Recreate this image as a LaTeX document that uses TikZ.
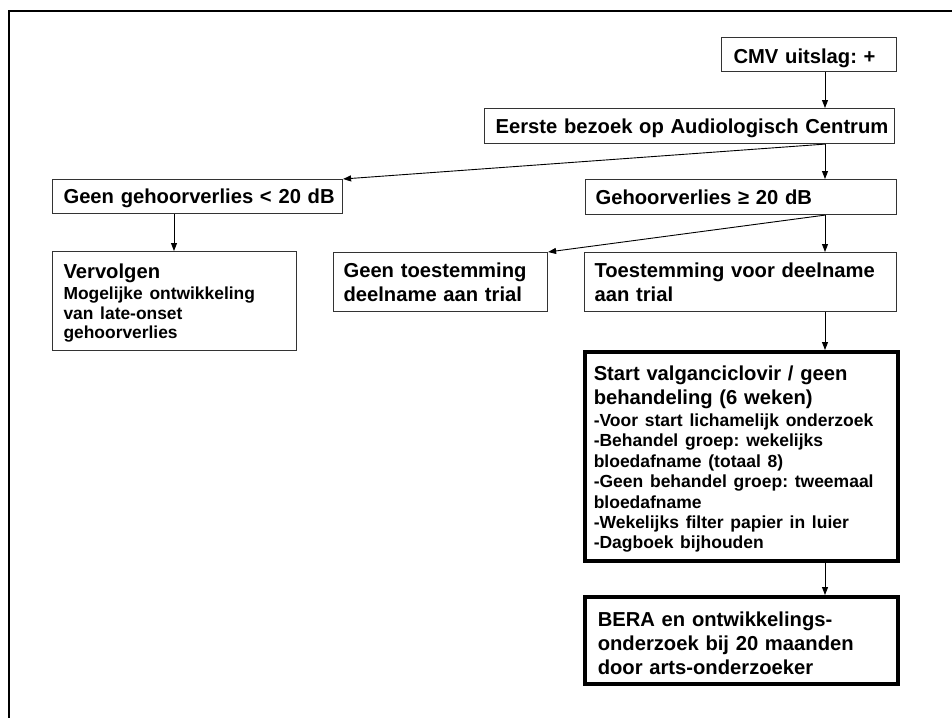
\documentclass[tikz,border=0pt]{standalone}
\usepackage{fontspec}
\setmainfont{Liberation Sans}
\usetikzlibrary{arrows.meta}
\newcommand\bigf{\fontsize{20.2}{24}\selectfont\bfseries\frenchspacing}
\newcommand\smf{\fontsize{17.5}{20.4}\selectfont\bfseries\frenchspacing}
\newcommand\smv{\fontsize{17.4}{19.5}\selectfont\bfseries\frenchspacing}
\newcommand\oneline[1]{\mbox{#1}\par}
\begin{document}
\begin{tikzpicture}[x=1pt,y=-1pt,
  box/.style={draw=black!80, line width=1.1pt, anchor=north west, inner ysep=0pt, font=\bigf,
    execute at begin node={\parindent=0pt\parskip=0pt}},
  thickbox/.style={box, draw=black, line width=3.5pt},
  arr/.style={-{Triangle[length=8pt,width=6pt]}, line width=0.9pt}]
\useasboundingbox (0,0) rectangle (952,717);
\draw[line width=2.5pt] (9,720) -- (9,11) -- (955,11);

\coordinate (ax) at (825,0);
\coordinate (bx) at (174,0);

\node[box, inner xsep=12pt, minimum width=175pt, minimum height=34pt, text width=151pt, text height=18pt, text depth=0pt] (cmv) at (721,37) {\oneline{CMV uitslag: +}};
\node[box, inner xsep=11pt, minimum width=410pt, minimum height=35pt, text width=388pt, text depth=0pt] (eerste) at (484,108) {\oneline{Eerste bezoek op Audiologisch Centrum}};
\node[box, inner xsep=11pt, minimum width=290pt, minimum height=34pt, text width=268pt, text depth=0pt] (gg) at (52,179) {\oneline{Geen gehoorverlies < 20 dB}};
\node[box, inner xsep=10pt, minimum width=311pt, minimum height=35pt, text width=291pt, text depth=0pt] (gh) at (585,179) {\oneline{Gehoorverlies ≥ 20 dB}};
\node[box, inner xsep=11pt, minimum width=244pt, minimum height=99pt, text width=222pt] (verv) at (52,251)
  {\oneline{\rule{0pt}{18.3pt}Vervolgen}\smv\vspace{2.1pt}\oneline{Mogelijke ontwikkeling}\oneline{van late-onset}\oneline{gehoorverlies}};
\node[box, inner xsep=10pt, minimum width=214pt, minimum height=59pt, text width=194pt] (gt) at (333,252)
  {\oneline{Geen toestemming}\oneline{deelname aan trial}};
\node[box, inner xsep=10pt, minimum width=312pt, minimum height=59pt, text width=292pt] (ts) at (584,252)
  {\oneline{Toestemming voor deelname}\oneline{aan trial}};
\node[thickbox, inner xsep=9pt, minimum width=313pt, minimum height=209pt, text width=295pt] (start) at (583,350)
  {\oneline{\rule{0pt}{20.7pt}Start valganciclovir / geen}\oneline{behandeling (6 weken)}\smf\vspace{1.3pt}%
   \oneline{-Voor start lichamelijk onderzoek}\oneline{-Behandel groep: wekelijks}\oneline{bloedafname (totaal 8)}%
   \oneline{-Geen behandel groep: tweemaal}\oneline{bloedafname}\oneline{-Wekelijks filter papier in luier}%
   \oneline{-Dagboek bijhouden}};
\node[thickbox, inner xsep=13pt, minimum width=313pt, minimum height=87pt, text width=287pt] (bera) at (583,595)
  {\oneline{\rule{0pt}{19.7pt}BERA en ontwikkelings-}\oneline{onderzoek bij 20 maanden}\oneline{door arts-onderzoeker}};

\draw[arr] (cmv.south -| ax) -- (eerste.north -| ax);
\draw[arr] (eerste.south -| ax) -- (gh.north -| ax);
\draw[arr] (eerste.south -| ax) -- (gg.north east);
\draw[arr] (gg.south -| bx) -- (verv.north -| bx);
\draw[arr] (gh.south -| ax) -- (gt.north east);
\draw[arr] (gh.south -| ax) -- (ts.north -| ax);
\draw[arr] (ts.south -| ax) -- (start.north -| ax);
\draw[arr] (start.south -| ax) -- (bera.north -| ax);
\end{tikzpicture}
\end{document}
